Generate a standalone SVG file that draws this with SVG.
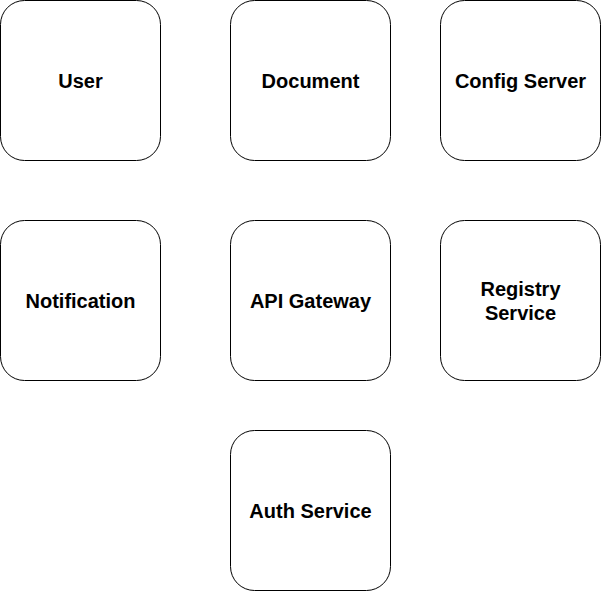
<svg xmlns="http://www.w3.org/2000/svg" width="601" height="591" viewBox="0 0 601 591">
<style>
.box{fill:#fff;stroke:#000;stroke-width:1}
.lbl{font-family:"Liberation Sans",Arial,sans-serif;font-size:20px;font-weight:bold;fill:#000;text-anchor:middle}
</style>
<rect width="601" height="591" fill="#fff"/>
<g id="connectors"></g>
<g id="user"><rect class="box" x="0.5" y="0.5" width="160" height="160" rx="24"/><text class="lbl" x="80.5" y="88">User</text></g>
<g id="document"><rect class="box" x="230.5" y="0.5" width="160" height="160" rx="24"/><text class="lbl" x="310.5" y="88">Document</text></g>
<g id="config"><rect class="box" x="440.5" y="0.5" width="160" height="160" rx="24"/><text class="lbl" x="520.5" y="88">Config Server</text></g>
<g id="notification"><rect class="box" x="0.5" y="220.5" width="160" height="160" rx="24"/><text class="lbl" x="80.5" y="308">Notification</text></g>
<g id="gateway"><rect class="box" x="230.5" y="220.5" width="160" height="160" rx="24"/><text class="lbl" x="310.5" y="308">API Gateway</text></g>
<g id="registry"><rect class="box" x="440.5" y="220.5" width="160" height="160" rx="24"/><text class="lbl" x="520.5" y="296">Registry</text><text class="lbl" x="520.5" y="320">Service</text></g>
<g id="auth"><rect class="box" x="230.5" y="430.5" width="160" height="160" rx="24"/><text class="lbl" x="310.5" y="518">Auth Service</text></g>
</svg>
